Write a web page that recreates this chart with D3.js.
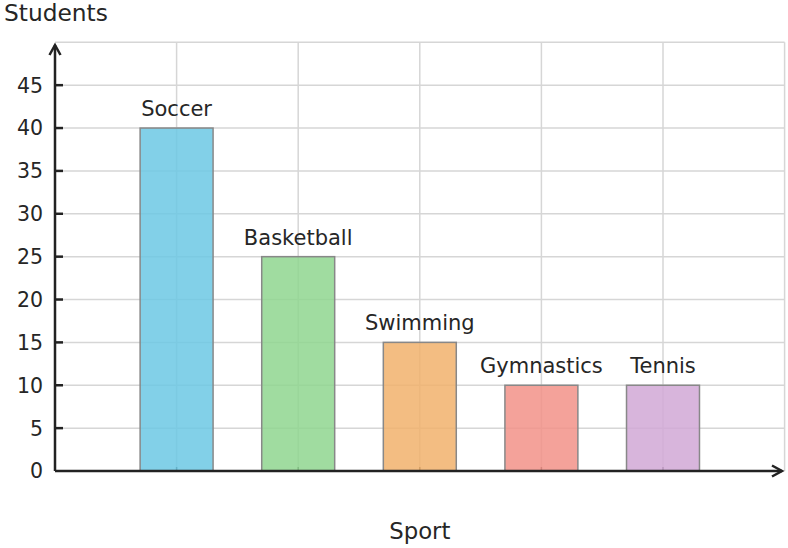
<!DOCTYPE html>
<html>
<head>
<meta charset="utf-8">
<script src="https://cdn.jsdelivr.net/npm/d3@7"></script>
<style>
  body { margin: 0; background: #fff; }
  text { font-family: "DejaVu Sans", sans-serif; fill: #262626; }
</style>
</head>
<body>
<svg id="chart" width="788" height="548"></svg>
<script>
// data
const sports = ["Soccer", "Basketball", "Swimming", "Gymnastics", "Tennis"];
const students = [40, 25, 15, 10, 10];
const barColors = ["#6cc8e4", "#8fd68f", "#f1b16c", "#f29288", "#d1a8d6"];
const yTicks = [0, 5, 10, 15, 20, 25, 30, 35, 40, 45];

const svg = d3.select("#chart");

const x = d3.scaleLinear().domain([0, 6]).range([55, 784.6]);
const y = d3.scaleLinear().domain([0, 50]).range([471, 42.3]);
const barW = x(0.6) - x(0);

// grid
const grid = svg.append("g").attr("stroke", "#d6d6d6").attr("stroke-width", 1.5);
grid.selectAll("line.h")
  .data(d3.range(5, 51, 5))
  .join("line")
  .attr("x1", x(0)).attr("x2", x(6))
  .attr("y1", d => y(d)).attr("y2", d => y(d));
grid.selectAll("line.v")
  .data(d3.range(1, 7))
  .join("line")
  .attr("x1", d => x(d)).attr("x2", d => x(d))
  .attr("y1", y(0)).attr("y2", y(50));

// small x ticks at bar centers (sit under the bars)
svg.append("g")
  .attr("stroke", "#333").attr("stroke-width", 1.5)
  .selectAll("line")
  .data(sports)
  .join("line")
  .attr("x1", (d, i) => x(i + 1)).attr("x2", (d, i) => x(i + 1))
  .attr("y1", y(0)).attr("y2", y(0) - 4);

// bars
svg.append("g")
  .selectAll("rect")
  .data(sports)
  .join("rect")
  .attr("x", (d, i) => x(i + 1) - barW / 2)
  .attr("y", (d, i) => y(students[i]))
  .attr("width", barW)
  .attr("height", (d, i) => y(0) - y(students[i]))
  .attr("fill", (d, i) => barColors[i])
  .attr("fill-opacity", 0.85)
  .attr("stroke", "#888")
  .attr("stroke-width", 1.5);

// bar labels
svg.append("g")
  .selectAll("text")
  .data(sports)
  .join("text")
  .attr("x", (d, i) => x(i + 1))
  .attr("y", (d, i) => y(students[i]) - 12)
  .attr("text-anchor", "middle")
  .attr("font-size", 21)
  .text(d => d);

// axes
const axis = svg.append("g").attr("stroke", "#222").attr("stroke-width", 2.5).attr("fill", "none");
axis.append("line").attr("x1", x(0)).attr("x2", 782).attr("y1", y(0)).attr("y2", y(0));
axis.append("line").attr("x1", x(0)).attr("x2", x(0)).attr("y1", y(0)).attr("y2", 45);
axis.append("path").attr("d", `M772,${y(0) - 5.5}L782,${y(0)}L772,${y(0) + 5.5}`);
axis.append("path").attr("d", `M${x(0) - 5.5},55L${x(0)},45L${x(0) + 5.5},55`);

// y ticks
const yt = svg.append("g");
yt.selectAll("line")
  .data(yTicks.slice(1))
  .join("line")
  .attr("x1", x(0)).attr("x2", x(0) + 8)
  .attr("y1", d => y(d)).attr("y2", d => y(d))
  .attr("stroke", "#222").attr("stroke-width", 2.5);
yt.selectAll("text")
  .data(yTicks)
  .join("text")
  .attr("x", 43)
  .attr("y", d => y(d))
  .attr("dy", "0.36em")
  .attr("text-anchor", "end")
  .attr("font-size", 20.5)
  .text(d => d);

// axis titles
svg.append("text").attr("x", 4).attr("y", 21).attr("font-size", 23.3).text("Students");
svg.append("text").attr("x", (x(0) + x(6)) / 2).attr("y", 539)
  .attr("text-anchor", "middle").attr("font-size", 22.8).text("Sport");
</script>
</body>
</html>
